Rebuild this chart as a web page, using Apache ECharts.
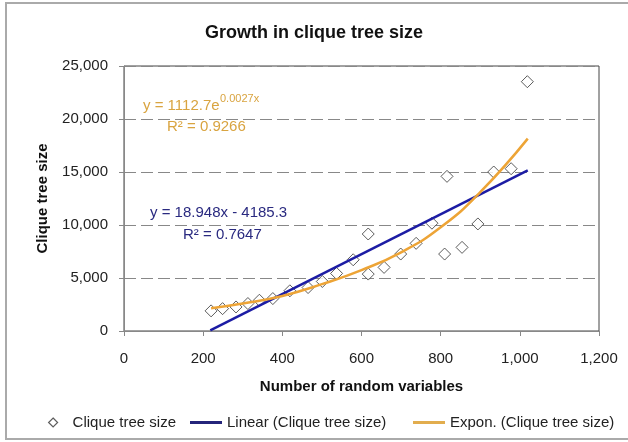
<!DOCTYPE html>
<html>
<head>
<meta charset="utf-8">
<script src="https://cdn.jsdelivr.net/npm/echarts@6/dist/echarts.min.js"></script>
<style>
  html, body { margin: 0; padding: 0; background: #fff; }
  #chart { width: 628px; height: 442px; }
</style>
</head>
<body>
<div id="chart"></div>
<script>
// 数据：随机变量个数 vs 团树大小
let varCounts = [220, 249, 283, 313, 342, 376, 419, 465, 501, 537, 579, 617, 617, 657, 699, 738, 778, 810, 816, 854, 894, 934, 978, 1019];
let treeSizes = [1900, 2110, 2270, 2590, 2900, 3060, 3790, 4100, 4670, 5430, 6720, 9150, 5370, 6000, 7260, 8270, 10170, 7260, 14590, 7890, 10100, 15000, 15310, 23520];

// 趋势线（从图上读出的点）
let linearX = [218, 1020];
let linearY = [50, 15150];
let exponX = [220, 300, 400, 500, 600, 700, 800, 900, 1020];
let exponY = [2150, 2590, 3310, 4420, 5750, 7420, 9780, 13100, 18150];

let xTicks = [0, 200, 400, 600, 800, 1000, 1200];
let yTicks = [0, 5000, 10000, 15000, 20000, 25000];

let seriesNames = ['Clique tree size', 'Linear (Clique tree size)', 'Expon. (Clique tree size)'];

let blue = '#1c1ca4';
let orange = '#eda436';
let font = '"Liberation Sans", Arial, sans-serif';

function pairs(xs, ys) {
    let out = [];
    for (let i = 0; i < xs.length; i++) {
        out.push([xs[i], ys[i]]);
    }
    return out;
}

function fmt(v) {
    return v.toLocaleString('en-US');
}

let myChart = echarts.init(document.getElementById('chart'));

let legendText = { fontSize: 15, color: '#222', fontFamily: font };

let option = {
    animation: false,
    backgroundColor: '#fff',
    textStyle: { fontFamily: font },
    title: {
        text: 'Growth in clique tree size',
        left: 'center',
        top: 19,
        textStyle: { fontSize: 18, fontWeight: 'bold', color: '#111', fontFamily: font },
    },
    grid: {
        left: 124,
        right: 29,
        top: 66,
        bottom: 111,
        show: true,
        borderColor: '#444',
        borderWidth: 1,
    },
    legend: [
        {
            data: [{ name: seriesNames[0], icon: 'diamond', itemStyle: { color: '#fff', borderColor: '#333', borderWidth: 1.2 } }],
            left: 43, top: 410,
            itemWidth: 9, itemHeight: 9,
            textStyle: Object.assign({ padding: [0, 0, 0, 10] }, legendText),
        },
        {
            data: [{ name: seriesNames[1], icon: 'rect', itemStyle: { color: '#24247a' } }],
            left: 185, top: 410,
            itemWidth: 32, itemHeight: 3,
            textStyle: legendText,
        },
        {
            data: [{ name: seriesNames[2], icon: 'rect', itemStyle: { color: '#e2ad4e' } }],
            left: 408, top: 410,
            itemWidth: 32, itemHeight: 3,
            textStyle: legendText,
        },
    ],
    xAxis: {
        type: 'value',
        min: 0,
        max: 1200,
        interval: 200,
        name: 'Number of random variables',
        nameLocation: 'middle',
        nameGap: 48,
        nameTextStyle: { fontSize: 15, fontWeight: 'bold', color: '#111', fontFamily: font },
        axisLine: { show: true, lineStyle: { color: '#888' } },
        axisTick: { show: true, length: 5, lineStyle: { color: '#888' } },
        axisLabel: { fontSize: 15, color: '#222', margin: 20, formatter: fmt },
        splitLine: { show: false },
    },
    yAxis: {
        type: 'value',
        min: 0,
        max: 25000,
        interval: 5000,
        name: 'Clique tree size',
        nameLocation: 'middle',
        nameRotate: 90,
        nameGap: 74,
        nameTextStyle: { fontSize: 15, fontWeight: 'bold', color: '#111', fontFamily: font },
        axisLine: { show: true, lineStyle: { color: '#888' } },
        axisTick: { show: true, length: 5, lineStyle: { color: '#888' } },
        axisLabel: { fontSize: 15, color: '#222', margin: 16, formatter: fmt },
        splitLine: { show: true, lineStyle: { color: '#888', type: [12, 5], width: 1 } },
    },
    series: [
        {
            name: seriesNames[0],
            type: 'scatter',
            symbol: 'diamond',
            symbolSize: 12,
            itemStyle: { color: '#fff', borderColor: '#333', borderWidth: 1 },
            data: pairs(varCounts, treeSizes),
            z: 2,
        },
        {
            name: seriesNames[1],
            type: 'line',
            symbol: 'none',
            lineStyle: { color: blue, width: 2.5 },
            itemStyle: { color: blue },
            data: pairs(linearX, linearY),
            z: 3,
        },
        {
            name: seriesNames[2],
            type: 'line',
            symbol: 'none',
            smooth: true,
            lineStyle: { color: orange, width: 2.5 },
            itemStyle: { color: orange },
            data: pairs(exponX, exponY),
            z: 4,
        },
    ],
    graphic: [
        // 外边框
        {
            type: 'rect',
            shape: { x: 6, y: 3, width: 700, height: 436 },
            style: { fill: null, stroke: '#aaa', lineWidth: 2 },
            silent: true,
        },
        // 指数拟合公式
        {
            type: 'text',
            style: { text: 'y = 1112.7e', x: 143, y: 106, fill: '#d9a440', font: '15px ' + font, verticalAlign: 'middle' },
        },
        {
            type: 'text',
            style: { text: '0.0027x', x: 220, y: 99, fill: '#d9a440', font: '11px ' + font, verticalAlign: 'middle' },
        },
        {
            type: 'text',
            style: { text: 'R² = 0.9266', x: 167, y: 127, fill: '#d9a440', font: '15px ' + font, verticalAlign: 'middle' },
        },
        // 线性拟合公式
        {
            type: 'text',
            style: { text: 'y = 18.948x - 4185.3', x: 150, y: 213, fill: '#2a2a80', font: '15px ' + font, verticalAlign: 'middle' },
        },
        {
            type: 'text',
            style: { text: 'R² = 0.7647', x: 183, y: 235, fill: '#2a2a80', font: '15px ' + font, verticalAlign: 'middle' },
        },
    ],
};

myChart.setOption(option);
</script>
</body>
</html>
